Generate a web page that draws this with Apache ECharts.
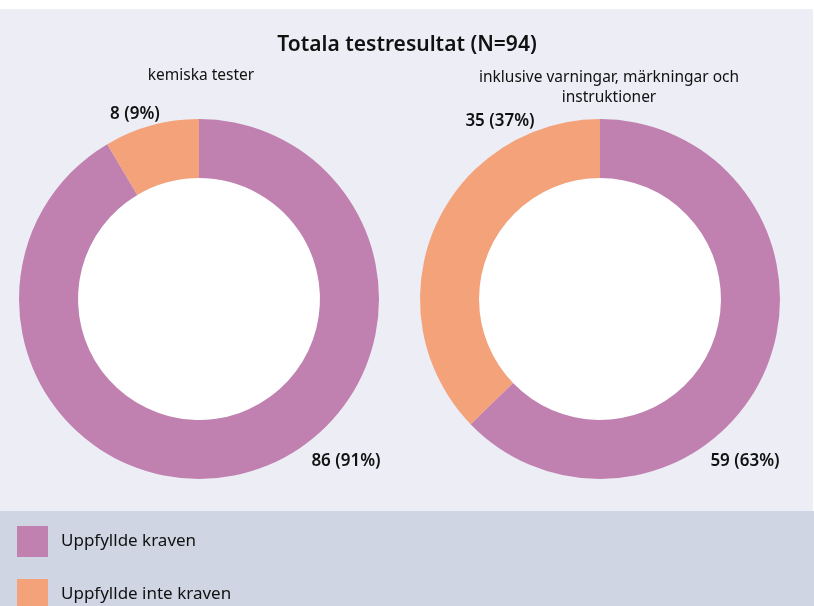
<!DOCTYPE html>
<html>
<head>
<meta charset="UTF-8">
<title>Totala testresultat</title>
<script src="https://cdn.jsdelivr.net/npm/echarts@6/dist/echarts.min.js"></script>
<style>
  html, body { margin: 0; padding: 0; background: #fff; }
  #main { width: 814px; height: 606px; }
</style>
</head>
<body>
<div id="main"></div>
<script>
// data
var categories = ['Uppfyllde kraven', 'Uppfyllde inte kraven'];
var kemiska = [86, 8];
var inklusive = [59, 35];
var subtitles = ['kemiska tester', 'inklusive varningar, märkningar och\ninstruktioner'];

var colors = ['#c080b0', '#f4a27a'];
var font = 'Noto Sans';

// label positions (x, y) per pie, per data index
var labelPos = [
  [[346, 461], [135, 114]],
  [[745, 461], [500, 121]]
];

function makePie(values, center, idx) {
  var total = values[0] + values[1];
  return {
    type: 'pie',
    center: center,
    radius: [121, 180],
    startAngle: 90,
    clockwise: true,
    silent: true,
    avoidLabelOverlap: false,
    data: values.map(function (v, i) {
      return { name: categories[i], value: v, itemStyle: { color: colors[i] } };
    }),
    label: {
      show: true,
      position: 'inside',
      fontFamily: font,
      fontSize: 17,
      fontWeight: 600,
      color: '#111',
      formatter: function (p) {
        return p.value + ' (' + Math.round(p.value / total * 100) + '%)';
      }
    },
    labelLine: { show: false },
    labelLayout: function (p) {
      var xy = labelPos[idx][p.dataIndex];
      return { x: xy[0], y: xy[1], align: 'center', verticalAlign: 'middle' };
    }
  };
}

function makeLegend(i, top) {
  return {
    orient: 'vertical',
    left: 17,
    top: top,
    padding: 0,
    itemWidth: 31,
    itemHeight: 31,
    icon: 'rect',
    selectedMode: false,
    data: [categories[i]],
    textStyle: { fontFamily: font, fontSize: 17, color: '#111', padding: [0, 0, 0, 8] }
  };
}

var myChart = echarts.init(document.getElementById('main'));

var option = {
  backgroundColor: '#fff',
  animation: false,
  graphic: [
    { type: 'rect', z: -10, shape: { x: 0, y: 9, width: 813, height: 502 }, style: { fill: '#ecedf5' } },
    { type: 'rect', z: -10, shape: { x: 0, y: 511, width: 814, height: 95 }, style: { fill: '#cfd5e2' } },
    { type: 'circle', z: -5, shape: { cx: 199, cy: 299, r: 121 }, style: { fill: '#fff' } },
    { type: 'circle', z: -5, shape: { cx: 600, cy: 299, r: 121 }, style: { fill: '#fff' } }
  ],
  title: [{
    text: 'Totala testresultat (N=94)',
    left: 'center',
    top: 30,
    textStyle: { fontFamily: font, fontSize: 21, fontWeight: 600, color: '#111' }
  }, {
    text: subtitles[0],
    left: 196,
    top: 63,
    textAlign: 'center',
    textStyle: { fontFamily: font, fontSize: 15.5, fontWeight: 'normal', color: '#111' }
  }, {
    text: subtitles[1],
    left: 604,
    top: 63,
    textAlign: 'center',
    textStyle: { fontFamily: font, fontSize: 15.5, fontWeight: 'normal', color: '#111', lineHeight: 20, align: 'center' }
  }],
  legend: [makeLegend(0, 526), makeLegend(1, 579)],
  series: [
    makePie(kemiska, [199, 299], 0),
    makePie(inklusive, [600, 299], 1)
  ]
};

myChart.setOption(option);
</script>
</body>
</html>
